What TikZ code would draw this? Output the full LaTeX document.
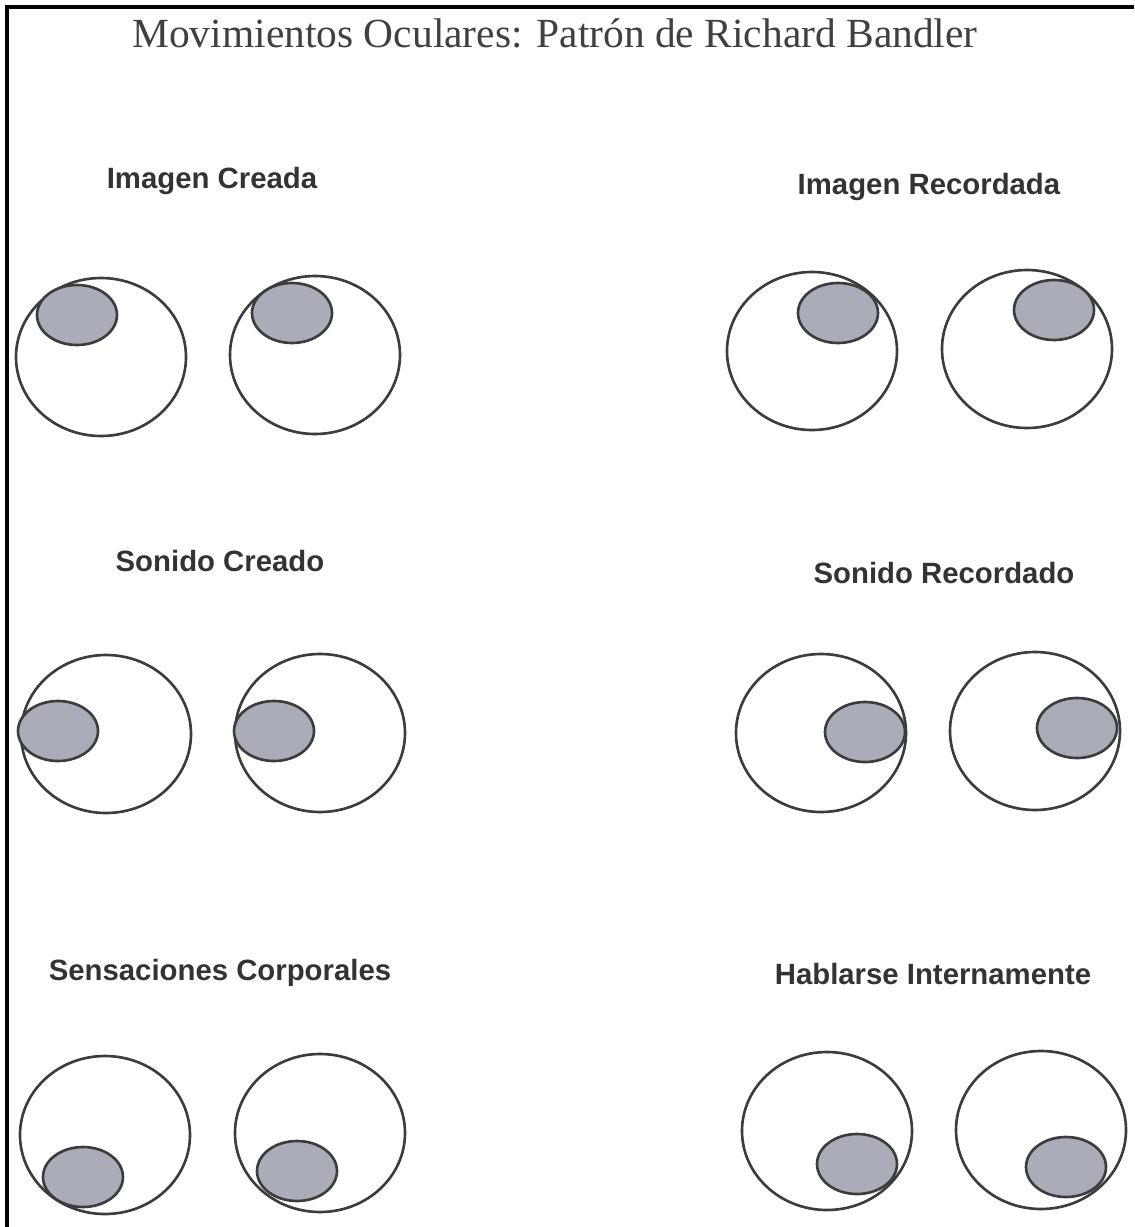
\documentclass[tikz,border=0pt]{standalone}
\usepackage{fontspec}
\setmainfont{Liberation Serif}
\newfontfamily\labelfont{Liberation Sans}
\usepackage{tikz}
\usetikzlibrary{positioning}
\definecolor{pupilgray}{RGB}{170,172,184}
\definecolor{inkgray}{RGB}{60,60,60}

\begin{document}
\begin{tikzpicture}[x=0.02cm, y=-0.02cm,
  eye/.style={draw=inkgray, line width=1.5pt},
  pupil/.style={draw=inkgray, fill=pupilgray, line width=1.5pt},
  lbl/.style={text=black!80, font=\labelfont\bfseries\fontsize{16.7}{19}\selectfont}]
\useasboundingbox (0,0) rectangle (1134,1227);
%\draw[help lines] (0,0) grid (1134,1227);
\draw [line width=2.2pt] (7,1227) -- (7,7) -- (1134,7);

\node (title) [text=black!75, font=\fontsize{23.6}{28}\selectfont] at (555,33) {Movimientos Oculares: Patrón de Richard Bandler};

% imagen creada
\node (ic) [lbl] at (212,181) {Imagen Creada};
\draw [eye] (101,357) ellipse (85 and 79);
\draw [pupil] (77,315) ellipse (40 and 30);
\draw [eye] (315,355) ellipse (85 and 79);
\draw [pupil] (292,313) ellipse (40 and 30);

% imagen recordada
\node (ir) [lbl] at (929,187) {Imagen Recordada};
\draw [eye] (812,351) ellipse (85 and 79);
\draw [pupil] (838,313) ellipse (40 and 30);
\draw [eye] (1027,349) ellipse (85 and 79);
\draw [pupil] (1054,310) ellipse (40 and 30);

% sonido creado
\node (sc) [lbl] at (220,561) {Sonido Creado};
\draw [eye] (106,734) ellipse (85 and 79);
\draw [pupil] (58,731) ellipse (40 and 30);
\draw [eye] (320,733) ellipse (85 and 79);
\draw [pupil] (274,731) ellipse (40 and 30);

% sonido recordado
\node (sr) [lbl] at (944,573) {Sonido Recordado};
\draw [eye] (821,733) ellipse (85 and 79);
\draw [pupil] (865,732) ellipse (40 and 30);
\draw [eye] (1035,731) ellipse (85 and 79);
\draw [pupil] (1077,728) ellipse (40 and 30);

% sensaciones corporales
\node (sco) [lbl] at (220,973) {Sensaciones Corporales};
\draw [eye] (105,1135) ellipse (85 and 79);
\draw [pupil] (83,1177) ellipse (40 and 30);
\draw [eye] (320,1133) ellipse (85 and 79);
\draw [pupil] (297,1171) ellipse (40 and 30);

% hablarse internamente
\node (hi) [lbl] at (933,974) {Hablarse Internamente};
\draw [eye] (827,1131) ellipse (85 and 79);
\draw [pupil] (857,1164) ellipse (40 and 30);
\draw [eye] (1041,1130) ellipse (85 and 79);
\draw [pupil] (1066,1167) ellipse (40 and 30);

\end{tikzpicture}
\end{document}
